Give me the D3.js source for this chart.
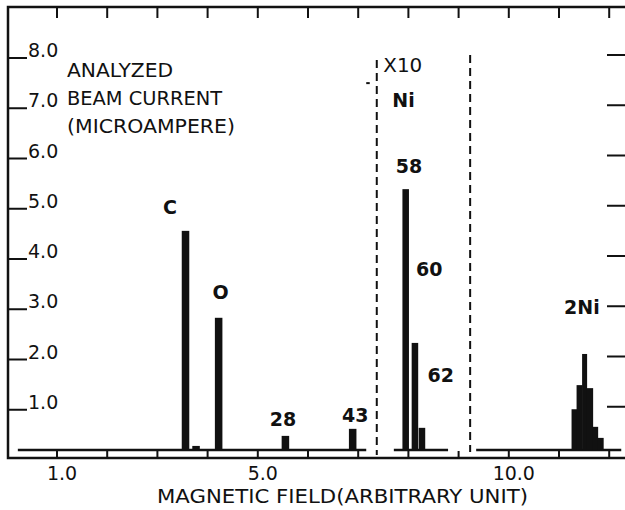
<!DOCTYPE html>
<html>
<head>
<meta charset="utf-8">
<script src="https://cdn.jsdelivr.net/npm/d3@7"></script>
<style>
  body { margin: 0; background: #fff; }
  text { font-family: "DejaVu Sans", sans-serif; fill: #111; }
</style>
</head>
<body>
<svg id="chart" width="625" height="510"></svg>
<script>
// peak bars (x = magnetic field, value = beam current)
var peakNames = ["C", "", "O", "28", "43"];
var peakField = [3.56, 3.77, 4.22, 5.55, 6.89];
var peakCurrent = [4.56, 0.28, 2.83, 0.48, 0.62];

// Ni isotopes (x10 region)
var niNames = ["58", "60", "62"];
var niField = [7.956, 8.14, 8.28];
var niCurrent = [5.39, 2.33, 0.64];

// 2Ni histogram steps
var ni2Edges = [11.25, 11.35, 11.46, 11.55, 11.67, 11.77, 11.88];
var ni2Current = [1.01, 1.49, 2.11, 1.43, 0.66, 0.44];

var baseLevel = 0.2;
var baseSegments = [[0.22, 7.16], [7.71, 8.79], [9.35, 12.24]];
var dashedLines = [{x: 7.37, y0: 0.1, y1: 7.96}, {x: 9.23, y0: 0.16, y1: 8.06}];

var xTicks = [1, 2, 3, 4, 5, 6, 7, 8, 9, 10, 11, 12];
var xLabels = ["1.0", "5.0", "10.0"];
var xLabelVals = [1, 5, 10];
var yTicks = [1, 2, 3, 4, 5, 6, 7, 8];
var yLabels = ["1.0", "2.0", "3.0", "4.0", "5.0", "6.0", "7.0", "8.0"];

var svg = d3.select("#chart");

var frameLeft = 8, frameTop = 7, frameBottom = 458, frameRight = 626;

var x = d3.scaleLinear().domain([1, 10]).range([57, 508.8]);
var y = d3.scaleLinear().domain([0, 8]).range([460, 58]);

var barW = x(1.15) - x(1);

// frame (right side cropped)
svg.append("path")
  .attr("d", "M" + frameRight + "," + frameTop + "H" + frameLeft + "V" + frameBottom + "H" + frameRight)
  .attr("fill", "none")
  .attr("stroke", "#111")
  .attr("stroke-width", 2.5);

// top ticks & bottom ticks
svg.selectAll(".ttick").data(xTicks).enter().append("line")
  .attr("x1", d => x(d)).attr("x2", d => x(d))
  .attr("y1", frameTop).attr("y2", frameTop + 11)
  .attr("stroke", "#111").attr("stroke-width", 2);
svg.selectAll(".btick").data(xTicks).enter().append("line")
  .attr("x1", d => x(d)).attr("x2", d => x(d))
  .attr("y1", frameBottom).attr("y2", frameBottom - 7)
  .attr("stroke", "#111").attr("stroke-width", 2);

// left ticks with labels sitting on them
svg.selectAll(".ltick").data(yTicks).enter().append("line")
  .attr("x1", frameLeft).attr("x2", 27)
  .attr("y1", d => y(d)).attr("y2", d => y(d))
  .attr("stroke", "#111").attr("stroke-width", 2);
svg.selectAll(".llab").data(yTicks).enter().append("text")
  .attr("x", 28).attr("y", d => y(d) - 1)
  .attr("font-size", 19)
  .text((d, i) => yLabels[i]);

// right ticks
svg.selectAll(".rtick").data(yTicks).enter().append("line")
  .attr("x1", 607).attr("x2", frameRight)
  .attr("y1", d => y(d) - 3).attr("y2", d => y(d) - 3)
  .attr("stroke", "#111").attr("stroke-width", 2);

// x labels
svg.selectAll(".xlab").data(xLabelVals).enter().append("text")
  .attr("x", d => x(d) + 5).attr("y", 480)
  .attr("text-anchor", "middle")
  .attr("font-size", 19)
  .text((d, i) => xLabels[i]);

svg.append("text")
  .attr("x", 157).attr("y", 503)
  .attr("font-size", 19)
  .attr("textLength", 371).attr("lengthAdjust", "spacingAndGlyphs")
  .text("MAGNETIC FIELD(ARBITRARY UNIT)");

// y title
var yTitle = ["ANALYZED", "BEAM CURRENT", "(MICROAMPERE)"];
var yTitleLen = [106, 155, 168];
svg.selectAll(".ytitle").data(yTitle).enter().append("text")
  .attr("x", 67).attr("y", (d, i) => 77 + i * 28)
  .attr("font-size", 19)
  .attr("textLength", (d, i) => yTitleLen[i]).attr("lengthAdjust", "spacingAndGlyphs")
  .text(d => d);

// baseline
svg.selectAll(".base").data(baseSegments).enter().append("line")
  .attr("x1", d => x(d[0])).attr("x2", d => x(d[1]))
  .attr("y1", y(baseLevel)).attr("y2", y(baseLevel))
  .attr("stroke", "#111").attr("stroke-width", 2.5);

// dashed separators
svg.selectAll(".dash").data(dashedLines).enter().append("line")
  .attr("x1", d => x(d.x)).attr("x2", d => x(d.x))
  .attr("y1", d => y(d.y1)).attr("y2", d => y(d.y0))
  .attr("stroke", "#111").attr("stroke-width", 2)
  .attr("stroke-dasharray", "8,5");
svg.append("line")
  .attr("x1", x(7.16)).attr("x2", x(7.23))
  .attr("y1", y(7.5)).attr("y2", y(7.5))
  .attr("stroke", "#111").attr("stroke-width", 2);

// peak bars
svg.selectAll(".peak").data(peakCurrent).enter().append("rect")
  .attr("x", (d, i) => x(peakField[i]) - barW / 2)
  .attr("width", barW)
  .attr("y", d => y(d))
  .attr("height", d => y(baseLevel) - y(d))
  .attr("fill", "#111");

// Ni bars
svg.selectAll(".ni").data(niCurrent).enter().append("rect")
  .attr("x", (d, i) => x(niField[i]) - barW / 2)
  .attr("width", barW - 1)
  .attr("y", d => y(d))
  .attr("height", d => y(baseLevel) - y(d))
  .attr("fill", "#111");

// 2Ni histogram
svg.selectAll(".ni2").data(ni2Current).enter().append("rect")
  .attr("x", (d, i) => x(ni2Edges[i]))
  .attr("width", (d, i) => x(ni2Edges[i + 1]) - x(ni2Edges[i]) + 0.5)
  .attr("y", d => y(d))
  .attr("height", d => y(baseLevel) - y(d))
  .attr("fill", "#111");

// annotations
var labelX = [3.25, 4.26, 5.5, 6.94];
var labelY = [4.9, 3.2, 0.68, 0.76];
var labelTxt = ["C", "O", "28", "43"];
svg.selectAll(".plab").data(labelTxt).enter().append("text")
  .attr("x", (d, i) => x(labelX[i])).attr("y", (d, i) => y(labelY[i]))
  .attr("text-anchor", "middle")
  .attr("font-size", 19).attr("font-weight", "bold")
  .text(d => d);

svg.append("text").attr("x", x(7.5)).attr("y", y(7.72))
  .attr("font-size", 19).attr("textLength", 39).attr("lengthAdjust", "spacingAndGlyphs")
  .text("X10");
svg.append("text").attr("x", x(7.68)).attr("y", y(7.03))
  .attr("font-size", 19).attr("font-weight", "bold")
  .text("Ni");

var niLabX = [7.75, 8.15, 8.38];
var niLabY = [5.71, 3.66, 1.55];
svg.selectAll(".nlab").data(niNames).enter().append("text")
  .attr("x", (d, i) => x(niLabX[i])).attr("y", (d, i) => y(niLabY[i]))
  .attr("font-size", 19).attr("font-weight", "bold")
  .text(d => d);

svg.append("text").attr("x", x(11.1)).attr("y", y(2.9))
  .attr("font-size", 19).attr("font-weight", "bold")
  .text("2Ni");
</script>
</body>
</html>
